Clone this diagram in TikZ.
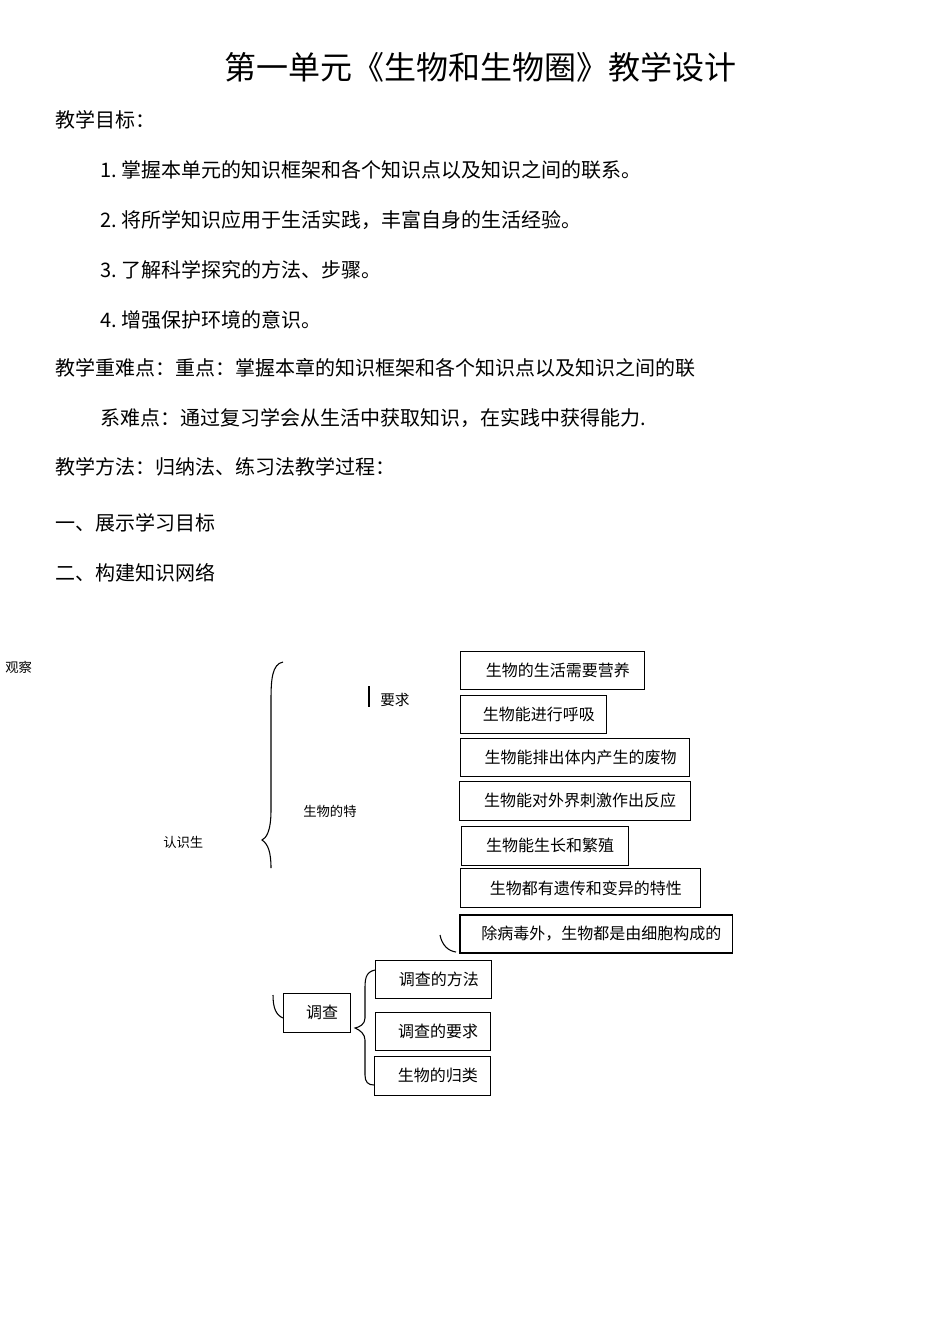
\documentclass[tikz,border=0pt]{standalone}
\usepackage{fontspec}
\setmainfont{Noto Sans CJK SC}
\begin{document}
\begin{tikzpicture}[x=0.75pt,y=-0.75pt,
  bx/.style={draw,thick,anchor=north west,inner sep=0pt,font=\fontsize{12}{12}\selectfont,align=left},
  body/.style={anchor=west,inner sep=0pt,font=\fontsize{15}{15}\selectfont},
  tiny/.style={anchor=west,inner sep=0pt,font=\fontsize{10}{10}\selectfont}]
\useasboundingbox (0,0) rectangle (950,1344);
\node[inner sep=0pt,font=\fontsize{24}{24}\selectfont] (title) at (480,67) {第一单元《生物和生物圈》教学设计};
\node[body] (t1) at (55,120) {教学目标：};
\node[body] (t2) at (100,170) {1.\ 掌握本单元的知识框架和各个知识点以及知识之间的联系。};
\node[body] (t3) at (100,220) {2.\ 将所学知识应用于生活实践，丰富自身的生活经验。};
\node[body] (t4) at (100,270) {3.\ 了解科学探究的方法、步骤。};
\node[body] (t5) at (100,320) {4.\ 增强保护环境的意识。};
\node[body] (t6) at (55,368) {教学重难点：重点：掌握本章的知识框架和各个知识点以及知识之间的联};
\node[body] (t7) at (100,418) {系难点：通过复习学会从生活中获取知识，在实践中获得能力.};
\node[body] (t8) at (55,467) {教学方法：归纳法、练习法教学过程：};
\node[body] (t9) at (55,523) {一、展示学习目标};
\node[body] (t10) at (55,573) {二、构建知识网络};
% boxes
\newcommand{\mybox}[6]{\node[bx,minimum width=#3*0.75pt,minimum height=#4*0.75pt,text width=(#3-26)*0.75pt,#6] (#5) at (#1,#2) {\hspace*{0pt}#5};}
\node[bx,minimum width=138pt,minimum height=28.5pt] (b1) at (460,651) {\hspace{8pt}生物的生活需要营养\hfill};
\node[bx,minimum width=109.5pt,minimum height=28.5pt] (b2) at (460,695) {\hspace{8pt}生物能进行呼吸\hfill};
\node[bx,minimum width=172pt,minimum height=28.5pt] (b3) at (460,738) {\hspace{8pt}生物能排出体内产生的废物\hfill};
\node[bx,minimum width=173pt,minimum height=29pt] (b4) at (459,781) {\hspace{8pt}生物能对外界刺激作出反应\hfill};
\node[bx,minimum width=125pt,minimum height=29pt] (b5) at (461,826) {\hspace{8pt}生物能生长和繁殖\hfill};
\node[bx,minimum width=180pt,minimum height=29pt] (b6) at (460,868) {\hspace{8pt}生物都有遗传和变异的特性\hfill};
\node[bx,very thick,minimum width=204.5pt,minimum height=28.5pt] (b7) at (459,914) {\hspace{8pt}除病毒外，生物都是由细胞构成的\hfill};
\node[bx,minimum width=87pt,minimum height=28.5pt] (c1) at (375,960) {\hspace{8pt}调查的方法\hfill};
\node[bx,minimum width=86pt,minimum height=28.5pt] (c2) at (375,1012) {\hspace{8pt}调查的要求\hfill};
\node[bx,minimum width=87pt,minimum height=29pt] (c3) at (374,1056) {\hspace{8pt}生物的归类\hfill};
\node[bx,minimum width=50pt,minimum height=29pt] (d) at (283,993) {\hspace{8pt}调查\hfill};
% labels
\node[anchor=west,inner sep=0pt,font=\fontsize{11}{11}\selectfont] (yq) at (380,700) {要求};
\node[tiny] (tz) at (303,811) {生物的特};
\node[tiny] (rs) at (163,842) {认识生};
\node[tiny] (gc) at (5,667) {观察};
% braces
\draw[thick] (283,662) .. controls (272,664) and (271,680) .. (271,700) -- (271,810) .. controls (271,832) and (266,838) .. (262,840) .. controls (268,844) and (271,852) .. (271,868);
\draw[thick] (375,970) .. controls (365,972) and (365,980) .. (365,990) -- (365,1018) .. controls (365,1024) and (360,1027) .. (355,1028) .. controls (360,1030) and (365,1034) .. (365,1040) -- (365,1075) .. controls (365,1082) and (368,1085) .. (374,1085);
\draw[thick] (440,935) .. controls (442,945) and (448,951) .. (456,952);
\draw[thick] (273,995) .. controls (273,1008) and (276,1015) .. (283,1018);
\draw[line width=2pt] (369,686) -- (369,707);
\end{tikzpicture}
\end{document}
